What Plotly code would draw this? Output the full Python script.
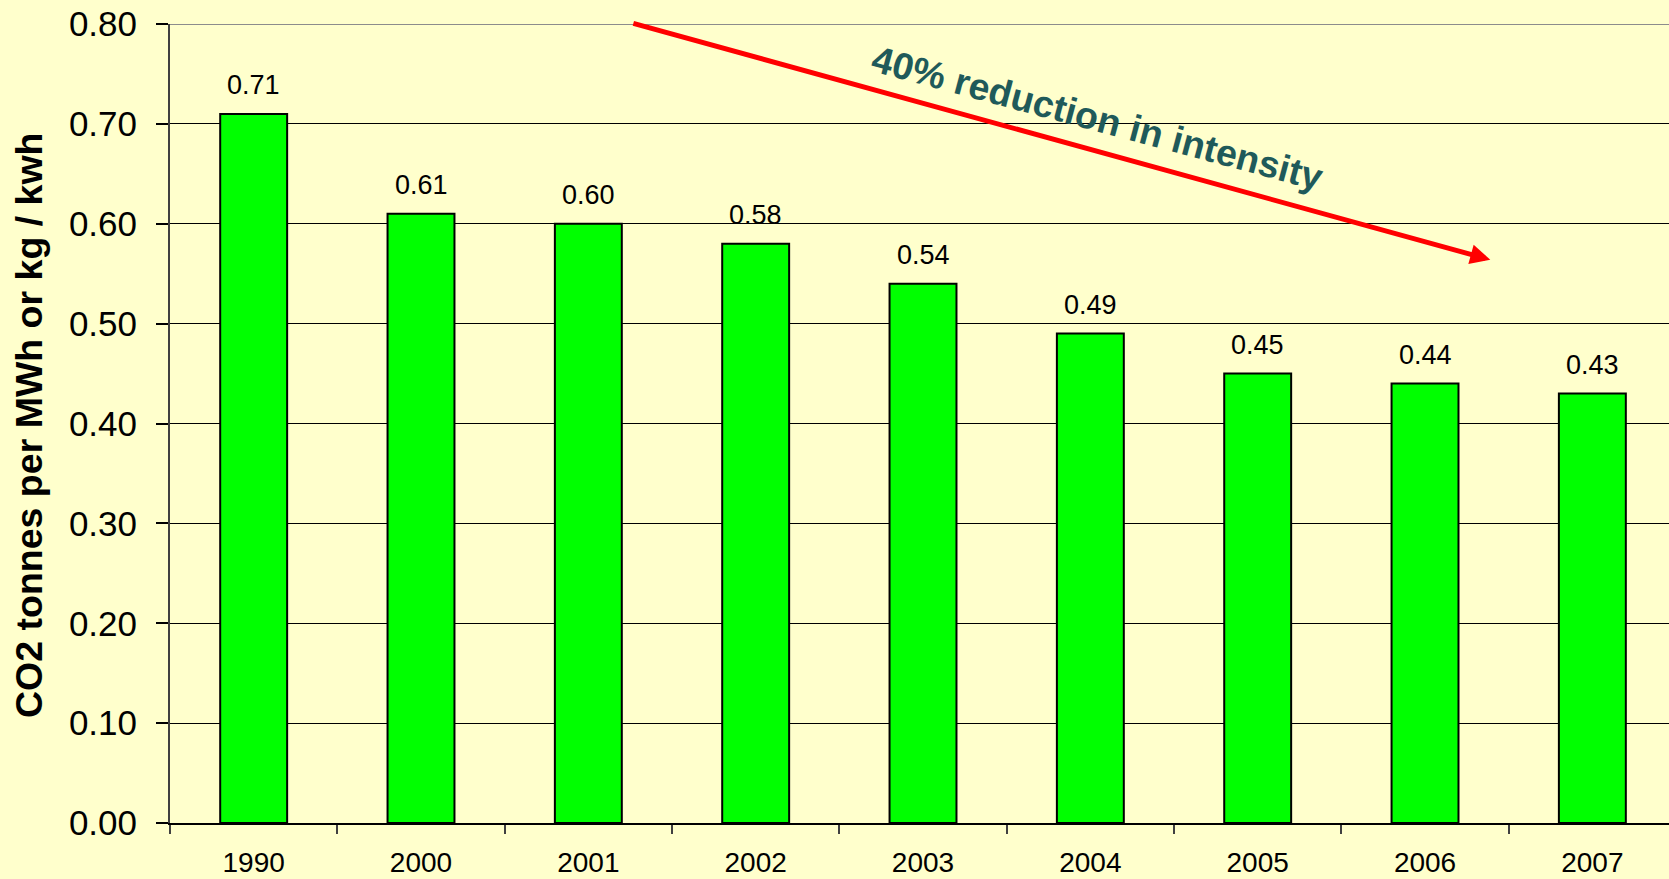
import plotly.graph_objects as go

years = ["1990", "2000", "2001", "2002", "2003", "2004", "2005", "2006", "2007"]
intensity = [0.71, 0.61, 0.60, 0.58, 0.54, 0.49, 0.45, 0.44, 0.43]
y_ticks = [0.0, 0.1, 0.2, 0.3, 0.4, 0.5, 0.6, 0.7, 0.8]
y_title = "CO2 tonnes per MWh or kg / kwh"
note_text = "40% reduction in intensity"

BG = "#FFFFCC"
FONT = "Liberation Sans, Arial, sans-serif"

fig = go.Figure()
fig.add_trace(go.Bar(
    x=years, y=intensity, width=0.4,
    marker=dict(color="#00FF00", line=dict(color="#000000", width=2)),
    hoverinfo="skip",
))

# data labels (category index positions)
for i, v in enumerate(intensity):
    fig.add_annotation(x=i, y=v, xref="x", yref="y", text=f"{v:.2f}", showarrow=False,
                       yanchor="bottom", yshift=12,
                       font=dict(family=FONT, size=27, color="#000000"))

# trend arrow (tail at ax/ay, head at x/y)
fig.add_annotation(x=7.39, y=0.564, ax=2.26, ay=0.801, xref="x", yref="y",
                   axref="x", ayref="y", text="", showarrow=True,
                   arrowhead=2, arrowsize=0.8, arrowwidth=5, arrowcolor="#FF0000")

fig.add_annotation(x=5.04, y=0.706, xref="x", yref="y", text=f"<b>{note_text}</b>",
                   showarrow=False, textangle=15, xanchor="center", yanchor="middle",
                   font=dict(family=FONT, size=37.5, color="#1F5A5A"))

fig.add_annotation(x=-0.094, y=0.497, xref="paper", yref="paper", text=f"<b>{y_title}</b>",
                   showarrow=False, textangle=-90, xanchor="center", yanchor="middle",
                   font=dict(family=FONT, size=37.5, color="#000000"))

# top border of plot area
fig.add_shape(type="line", xref="paper", yref="y", x0=0, x1=1, y0=0.8, y1=0.8,
              line=dict(color="#8C8C8C", width=2))

fig.update_layout(
    width=1669, height=879,
    paper_bgcolor=BG, plot_bgcolor=BG,
    margin=dict(l=170, r=0, t=24, b=56, autoexpand=False),
    showlegend=False,
    bargap=0.6,
    xaxis=dict(type="category", range=[-0.5, 8.458], tickson="boundaries",
               ticks="outside", ticklen=9, tickwidth=1.5, tickcolor="#404040",
               showline=True, linecolor="#000000", linewidth=2,
               showgrid=False, zeroline=False,
               tickfont=dict(family=FONT, size=28, color="#000000"),
               ticklabelstandoff=13),
    yaxis=dict(range=[0, 0.8], tickvals=y_ticks, tickformat=".2f",
               ticks="outside", ticklen=12, tickwidth=1.5, tickcolor="#000000",
               showline=True, linecolor="#404040", linewidth=2,
               showgrid=True, gridcolor="#000000", gridwidth=1,
               zeroline=False,
               tickfont=dict(family=FONT, size=35, color="#000000"),
               ticklabelstandoff=12),
)

fig.write_html("out.html", config={"displayModeBar": False},
               post_script="document.body.style.margin='0';document.body.style.overflow='hidden';")
